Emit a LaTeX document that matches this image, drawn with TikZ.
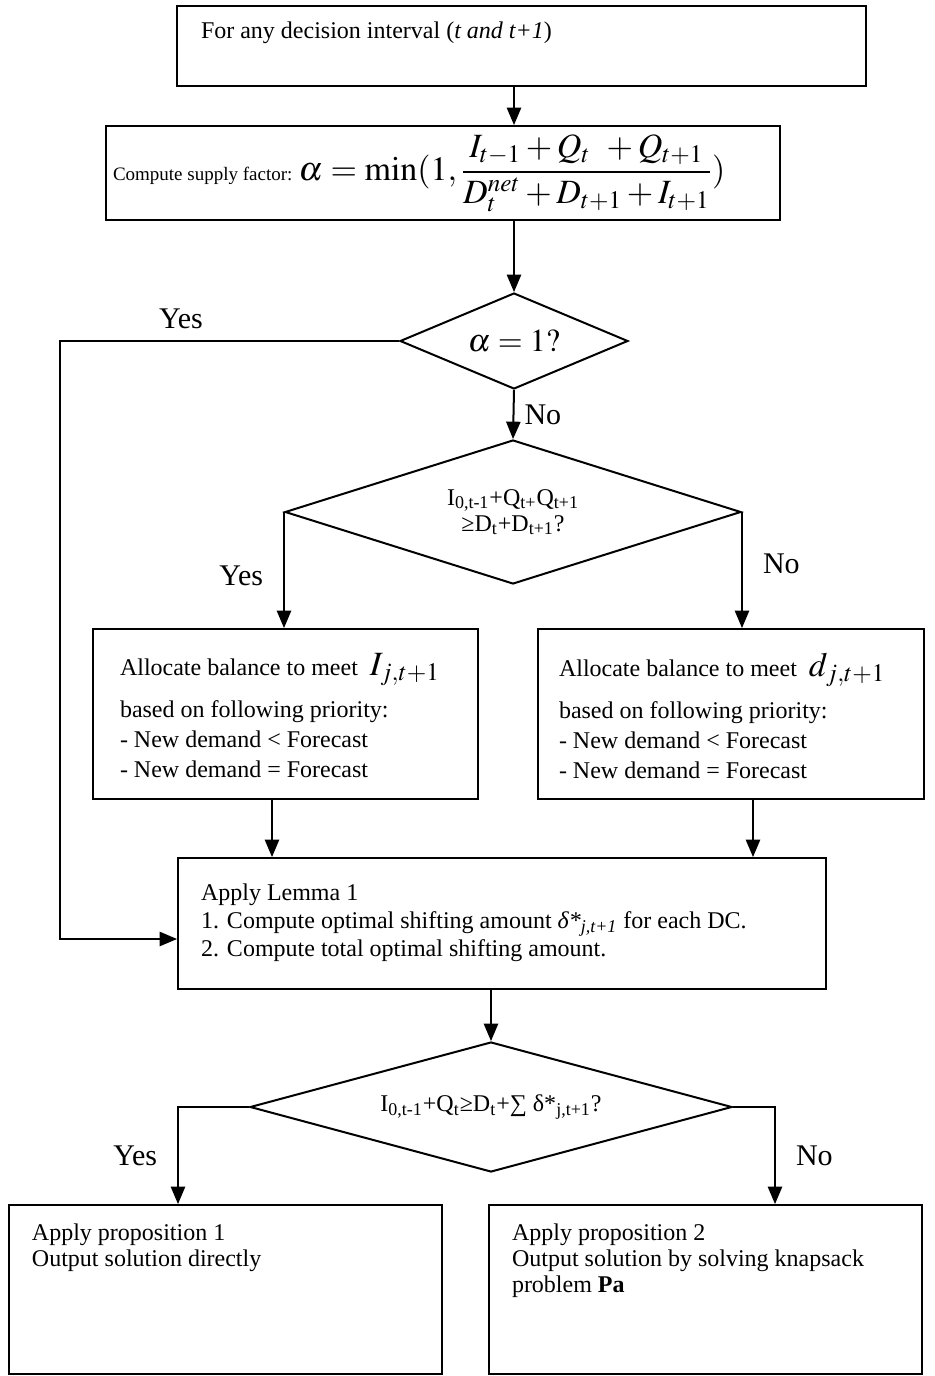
\documentclass[tikz,border=0pt]{standalone}
\usepackage{mathptmx}
\usepackage[no-math]{fontspec}
\setmainfont{Liberation Serif}
\usetikzlibrary{arrows,shapes.geometric,calc}

\begin{document}
\begin{tikzpicture}[x=0.5pt,y=-0.5pt,
        line width=1pt,>=triangle 45,
        box/.style = {draw,rectangle,inner sep=0pt},
        test/.style = {draw,diamond,inner sep=0pt,align=center,font=\fontsize{12}{13}\selectfont},
        txt/.style = {inner sep=0pt,align=left,font=\fontsize{12}{13}\selectfont},
        lab/.style = {inner sep=0pt,font=\fontsize{15}{17}\selectfont}
        ]

        \useasboundingbox (0,0) rectangle (935,1376);

        %Kaesten
        \node[box,minimum width=344.5pt,minimum height=40pt] (start) at (521.5,46) {};
        \node[box,minimum width=337pt,minimum height=47pt] (supply) at (443,173) {};
        \node[test,aspect=2.375,minimum width=114pt,minimum height=48pt] (alpha) at (514,341)
            {\fontsize{16}{18}\selectfont$\alpha =1?$};
        \node[test,aspect=3.17,minimum width=228pt,minimum height=72pt] (check) at (513,512)
            {I\textsubscript{0,t-1}+Q\textsubscript{t+}Q\textsubscript{t+1}\\ ≥D\textsubscript{t}+D\textsubscript{t+1}?};
        \node[box,minimum width=192.5pt,minimum height=85pt] (allocI) at (285.5,714) {};
        \node[box,minimum width=193pt,minimum height=85pt] (allocd) at (731,714) {};
        \node[box,minimum width=324pt,minimum height=65.5pt] (lemma) at (502,923.5) {};
        \node[test,aspect=3.7,minimum width=241pt,minimum height=65pt] (shift) at (491,1107)
            {I\textsubscript{0,t-1}+Q\textsubscript{t}≥D\textsubscript{t}+∑ δ*\textsubscript{j,t+1}?};
        \node[box,minimum width=216.5pt,minimum height=84.5pt] (propI) at (225.5,1289.5) {};
        \node[box,minimum width=216.5pt,minimum height=84.5pt] (propII) at (705.5,1289.5) {};

        %Texte
        \node[txt,anchor=base west] (starttxt) at (200,39)
            {For any decision interval (\textit{t and t+1})};
        \node[txt,anchor=west] (supplytxt) at (112,173)
            {\fontsize{9.5}{11}\selectfont Compute supply factor:
             \fontsize{17}{19}\selectfont$\alpha = \min(1,{\displaystyle\frac{I_{t-1}+Q_t\;\,+Q_{t+1}}{\rule{0pt}{13pt}D_t^{net}+D_{t+1}+I_{t+1}}})$};
        \node[txt,anchor=north west,font=\fontsize{12}{15}\selectfont] (allocItxt) at (119,652)
            {Allocate balance to meet \ {\fontsize{17}{19}\selectfont$I_{j,t+1}$}\\[6pt]
             based on following priority:\\ - New demand < Forecast\\ - New demand = Forecast};
        \node[txt,anchor=north west,font=\fontsize{12}{15}\selectfont] (allocdtxt) at (558,652)
            {Allocate balance to meet \ {\fontsize{17}{19}\selectfont$d_{j,t+1}$}\\[6pt]
             based on following priority:\\ - New demand < Forecast\\ - New demand = Forecast};
        \node[txt,anchor=north west,font=\fontsize{12}{14}\selectfont] (lemmatxt) at (200,883)
            {Apply Lemma 1\\ 1. Compute optimal shifting amount \textit{δ*}\textsubscript{\textit{j,t+1}} for each DC.\\
             2. Compute total optimal shifting amount.};
        \node[txt,anchor=north west] (propItxt) at (31,1223)
            {Apply proposition 1\\ Output solution directly};
        \node[txt,anchor=north west] (propIItxt) at (511,1223)
            {Apply proposition 2\\ Output solution by solving knapsack\\ problem \textbf{Pa}};

        %Pfeile
        \node[coordinate] (yesin) at (60,939) {};
        \draw[->] (start.south -| alpha.north) -- (supply.north -| alpha.north);
        \draw[->] (supply.south -| alpha.north) -- (alpha.north);
        \draw[->] (alpha.west) -| (yesin) -- (yesin -| lemma.west);
        \node[lab,anchor=base] (yesa) at (181,328) {Yes};
        \draw[->] (alpha.south) -- node[lab,anchor=west,xshift=5pt] (noa) {No} (check.north);
        \draw[->] (check.west) -- node[lab,anchor=east,xshift=-10pt,pos=.55] (yesb) {Yes} (check.west |- allocI.north);
        \draw[->] (check.east) -- node[lab,anchor=west,xshift=10pt,pos=.45] (nob) {No} (check.east |- allocd.north);
        \draw[->] ([shift={(-13.5,0)}]allocI.south) -- ([shift={(-13.5,0)}]allocI.south |- lemma.north);
        \draw[->] ([shift={(22,0)}]allocd.south) -- ([shift={(22,0)}]allocd.south |- lemma.north);
        \draw[->] (lemma.south -| shift.north) -- (shift.north);
        \draw[->] (shift.west) -| node[lab,anchor=east,xshift=-10pt,pos=.75] (yesc) {Yes} ([shift={(-47.5,0)}]propI.north);
        \draw[->] (shift.east) -| node[lab,anchor=west,xshift=10pt,pos=.75] (noc) {No} ([shift={(69.5,0)}]propII.north);

\end{tikzpicture}
\end{document}
